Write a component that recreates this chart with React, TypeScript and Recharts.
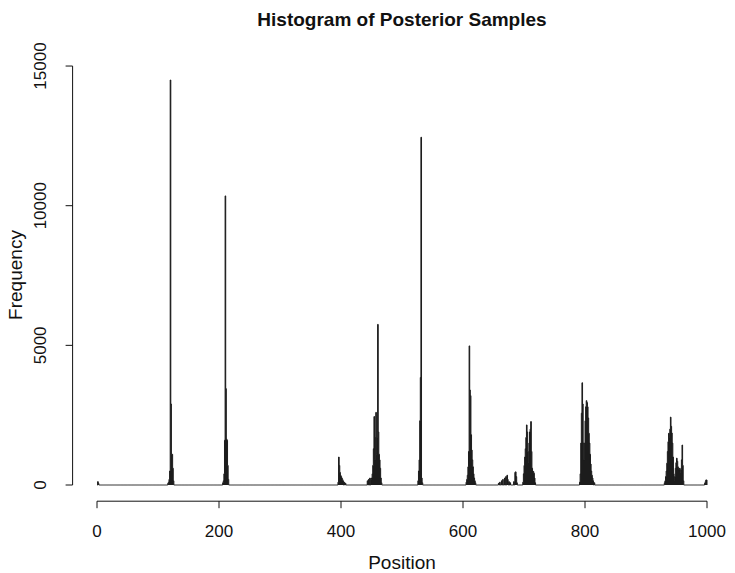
import React from 'react';
import { ComposedChart, Area, XAxis, YAxis, ReferenceLine } from 'recharts';

const chartTitle = 'Histogram of Posterior Samples';
const xAxisLabel = 'Position';
const yAxisLabel = 'Frequency';
const xTicks = [0, 200, 400, 600, 800, 1000];
const yTicks = [0, 5000, 10000, 15000];

// [position, count] pairs, grouped by region
const regionStart: [number, number][] = [[1, 120], [2, 60]];
const peak120: [number, number][] = [
  [116, 60], [117, 100], [118, 200], [119, 500], [120, 14500],
  [121, 2900], [122, 1100], [123, 1100], [124, 600], [125, 150],
];
const peak210: [number, number][] = [
  [206, 80], [207, 150], [208, 400], [209, 1600], [210, 10350], [211, 3450],
  [212, 1650], [213, 1600], [214, 700], [215, 200],
];
const peak397: [number, number][] = [
  [395, 100], [396, 1000], [397, 700], [398, 450], [399, 350], [400, 300], [401, 250],
  [402, 200], [403, 150], [405, 100], [407, 60],
];
const peak460: [number, number][] = [
  [443, 150], [445, 200], [447, 250], [449, 200], [450, 250], [451, 400],
  [452, 700], [453, 1300], [454, 2450], [455, 900], [456, 1700], [457, 2600], [458, 1100],
  [459, 1700], [460, 5750], [461, 1900], [462, 1100], [463, 900], [464, 600], [465, 250], [466, 80],
];
const peak531: [number, number][] = [
  [526, 150], [527, 500], [528, 900], [529, 2300], [530, 3850], [531, 12450],
  [532, 250], [533, 80],
];
const peak610: [number, number][] = [
  [605, 100], [606, 200], [607, 350], [608, 650], [609, 1200], [610, 4980],
  [611, 3400], [612, 3200], [613, 1800], [614, 1250], [615, 900], [616, 650], [617, 400],
  [618, 250], [619, 150], [620, 80],
];
const bumps670: [number, number][] = [
  [658, 60], [660, 100], [663, 150], [665, 200], [668, 250], [670, 300], [672, 350],
  [673, 200], [675, 120], [677, 80], [683, 120], [685, 450], [686, 470],
  [687, 300], [688, 80],
];
const peak705: [number, number][] = [
  [698, 100], [699, 400], [700, 700], [701, 1000], [702, 1300], [703, 1700], [704, 2150],
  [705, 1900], [706, 1200], [707, 800], [708, 1500], [709, 1900], [710, 2000], [711, 2270],
  [712, 1200], [713, 600], [714, 500], [715, 480], [716, 420], [717, 250], [718, 80],
];
const peak795: [number, number][] = [
  [791, 100], [792, 400], [793, 1500], [794, 2570], [795, 3660], [796, 2900], [797, 1500],
  [798, 900], [799, 1500], [800, 2300], [801, 2800], [802, 3020], [803, 2950], [804, 2800],
  [805, 2400], [806, 1850], [807, 1500], [808, 1100], [809, 750], [810, 500], [811, 350],
  [812, 250], [813, 150], [815, 80],
];
const peak940: [number, number][] = [
  [930, 80], [931, 150], [932, 300], [933, 500], [934, 780], [935, 1200],
  [936, 1550], [937, 1850], [938, 1700], [939, 2000], [940, 2430], [941, 2100], [942, 1860],
  [943, 1500], [944, 1000], [945, 400], [946, 170], [947, 300], [948, 600], [949, 800],
  [950, 960], [951, 850], [952, 650], [953, 600], [954, 550], [955, 600], [956, 450],
  [957, 550], [958, 900], [959, 1430], [960, 700], [961, 150],
];
const regionEnd: [number, number][] = [[996, 60], [997, 120], [998, 180], [999, 180]];

const regions = [regionStart, peak120, peak210, peak397, peak460, peak531, peak610, bumps670, peak705, peak795, peak940, regionEnd];

const countMap = new Map<number, number>();
regions.forEach((r) => r.forEach(([p, c]) => countMap.set(p, c)));
const data: { pos: number; count: number }[] = [];
for (let p = 0; p <= 1000; p++) data.push({ pos: p, count: countMap.get(p) ?? 0 });

const FONT = '"Liberation Sans", Arial, Helvetica, sans-serif';
const INK = '#111';
const BAR = '#1c1c1c';

const XTick = (props: any) => {
  const { x, payload } = props;
  return (
    <text x={x} y={537} textAnchor="middle" fontSize={17} fontFamily={FONT} fill={INK}>
      {payload.value}
    </text>
  );
};

const YTick = (props: any) => {
  const { y, payload } = props;
  return (
    <text x={46} y={y} transform={`rotate(-90, 46, ${y})`} textAnchor="middle" fontSize={17} fontFamily={FONT} fill={INK}>
      {payload.value}
    </text>
  );
};

export default function App() {
  return (
    <div style={{ position: 'absolute', left: 0, top: 0, width: 735, height: 573, background: '#fff' }}>
      <ComposedChart
        width={735}
        height={573}
        data={data}
        margin={{ top: 63.8, right: 3.6, bottom: 31.8, left: 12.6 }}
      >
        <XAxis
          dataKey="pos"
          type="number"
          domain={[-40, 1040]}
          ticks={xTicks}
          allowDataOverflow
          axisLine={false}
          tickLine={{ stroke: INK }}
          tickSize={7}
          height={40}
          tick={<XTick />}
          interval={0}
        />
        <YAxis
          type="number"
          domain={[-580, 15080]}
          ticks={yTicks}
          allowDataOverflow
          axisLine={false}
          tickLine={{ stroke: INK }}
          tickSize={7}
          width={60}
          tick={<YTick />}
          interval={0}
        />
        <ReferenceLine segment={[{ x: 0, y: -580 }, { x: 1000, y: -580 }]} stroke={INK} strokeWidth={1} ifOverflow="visible" />
        <ReferenceLine segment={[{ x: -40, y: 0 }, { x: -40, y: 15000 }]} stroke={INK} strokeWidth={1} ifOverflow="visible" />
        <Area
          dataKey="count"
          type="stepAfter"
          stroke={BAR}
          strokeWidth={1}
          fill={BAR}
          fillOpacity={1}
          dot={false}
          activeDot={false}
          isAnimationActive={false}
        />
      </ComposedChart>
      <svg width={735} height={573} style={{ position: 'absolute', left: 0, top: 0, pointerEvents: 'none' }}>
        <text x={402} y={26} textAnchor="middle" fontSize={19} fontWeight="bold" fontFamily={FONT} fill={INK}>
          {chartTitle}
        </text>
        <text x={402} y={569} textAnchor="middle" fontSize={19} fontFamily={FONT} fill={INK}>
          {xAxisLabel}
        </text>
        <text x={22} y={275} transform="rotate(-90, 22, 275)" textAnchor="middle" fontSize={19} fontFamily={FONT} fill={INK}>
          {yAxisLabel}
        </text>
      </svg>
    </div>
  );
}
